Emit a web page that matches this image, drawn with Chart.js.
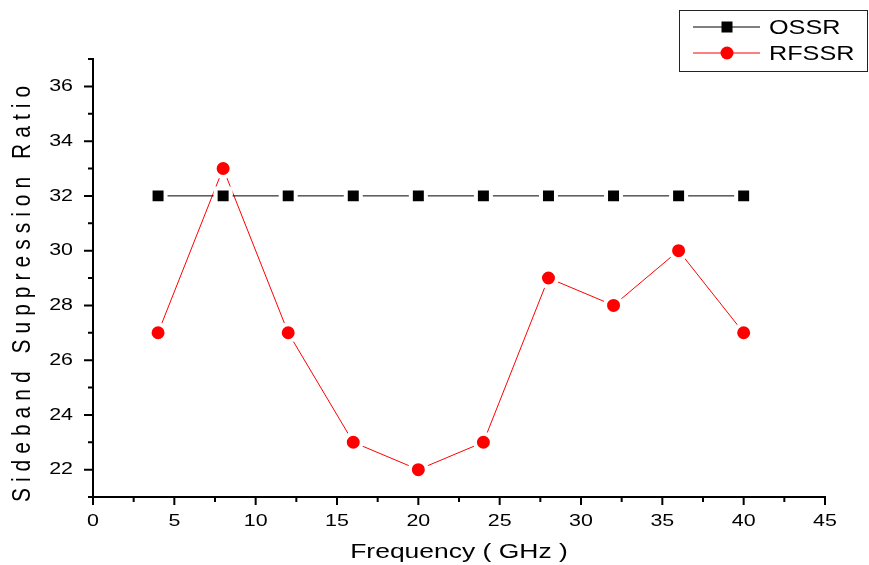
<!DOCTYPE html>
<html>
<head>
<meta charset="utf-8">
<script src="https://cdn.jsdelivr.net/npm/chart.js@4/dist/chart.umd.min.js"></script>
<style>
  html, body { margin: 0; padding: 0; background: #fff; }
  #wrap { width: 869px; height: 565px; position: relative; }
</style>
</head>
<body>
<div id="wrap"><canvas id="ssrChart"></canvas></div>
<script>
// data
const freqs = [4, 8, 12, 16, 20, 24, 28, 32, 36, 40];
const ossr = [32, 32, 32, 32, 32, 32, 32, 32, 32, 32];
const rfssr = [27, 33, 27, 23, 22, 23, 29, 28, 30, 27];
const xTicks = [0, 5, 10, 15, 20, 25, 30, 35, 40, 45];
const xMinor = [2.5, 7.5, 12.5, 17.5, 22.5, 27.5, 32.5, 37.5, 42.5];
const yTicks = [22, 24, 26, 28, 30, 32, 34, 36];
const yMinor = [21, 23, 25, 27, 29, 31, 33, 35, 37];

const FONT = 'Arial, "Liberation Sans", sans-serif';
const STRETCH = 1.26; // the original export is a bit wider than tall

function wideText(ctx, text, x, y, align, size) {
  ctx.save();
  ctx.translate(x, y);
  ctx.scale(STRETCH, 1);
  ctx.font = size + 'px ' + FONT;
  ctx.textAlign = align;
  ctx.textBaseline = 'middle';
  ctx.fillText(text, 0, 0);
  ctx.restore();
}

// outward ticks (major + minor), tick labels, axis titles and the boxed legend
const originStyle = {
  id: 'originStyle',
  afterDraw(chart) {
    const ctx = chart.ctx;
    const x = chart.scales.x, y = chart.scales.y;
    const area = chart.chartArea;
    ctx.save();
    ctx.strokeStyle = '#000';
    ctx.lineWidth = 2;
    ctx.beginPath();
    xTicks.forEach(v => { const px = x.getPixelForValue(v); ctx.moveTo(px, area.bottom); ctx.lineTo(px, area.bottom + 8); });
    xMinor.forEach(v => { const px = x.getPixelForValue(v); ctx.moveTo(px, area.bottom); ctx.lineTo(px, area.bottom + 5); });
    yTicks.forEach(v => { const py = y.getPixelForValue(v); ctx.moveTo(area.left, py); ctx.lineTo(area.left - 9, py); });
    yMinor.forEach(v => { const py = y.getPixelForValue(v); ctx.moveTo(area.left, py); ctx.lineTo(area.left - 5, py); });
    ctx.stroke();

    ctx.fillStyle = '#000';
    xTicks.forEach(v => wideText(ctx, String(v), x.getPixelForValue(v), area.bottom + 24, 'center', 17));
    yTicks.forEach(v => wideText(ctx, String(v), area.left - 20, y.getPixelForValue(v), 'right', 17));

    // axis titles
    wideText(ctx, 'Frequency ( GHz )', (area.left + area.right) / 2, 552, 'center', 21);

    ctx.save();
    ctx.translate(23, 291);
    ctx.rotate(-Math.PI / 2);
    ctx.scale(1, 1.2);
    ctx.letterSpacing = '6px';
    ctx.font = '21px ' + FONT;
    ctx.textAlign = 'center';
    ctx.textBaseline = 'middle';
    ctx.fillText('Sideband Suppression Ratio', 0, 0);
    ctx.restore();

    // legend
    ctx.lineWidth = 1;
    ctx.strokeStyle = '#222';
    ctx.strokeRect(679.5, 10.5, 188, 61);
    chart.data.datasets.forEach((ds, i) => {
      const ly = 27 + i * 26;
      ctx.strokeStyle = ds.borderColor;
      ctx.lineWidth = 1;
      ctx.beginPath();
      ctx.moveTo(693, ly);
      ctx.lineTo(760, ly);
      ctx.stroke();
      ctx.fillStyle = ds.pointBackgroundColor;
      if (ds.pointStyle === 'rect') {
        ctx.fillRect(721.5, ly - 5.5, 11, 11);
      } else {
        ctx.beginPath();
        ctx.arc(727, ly, 6.5, 0, Math.PI * 2);
        ctx.fill();
      }
      ctx.fillStyle = '#000';
      wideText(ctx, ds.label, 769, ly + 1, 'left', 20);
    });
    ctx.restore();
  }
};

new Chart(document.getElementById('ssrChart'), {
  type: 'line',
  data: {
    datasets: [{
      label: 'OSSR',
      data: freqs.map((f, i) => ({ x: f, y: ossr[i] })),
      borderColor: '#000',
      borderWidth: 1,
      pointStyle: 'rect',
      pointRadius: 10.6,
      pointBackgroundColor: '#000',
      pointBorderColor: '#fff',
      pointBorderWidth: 4
    }, {
      label: 'RFSSR',
      data: freqs.map((f, i) => ({ x: f, y: rfssr[i] })),
      borderColor: '#ff0000',
      borderWidth: 1,
      pointStyle: 'circle',
      pointRadius: 8.5,
      pointBackgroundColor: '#ff0000',
      pointBorderColor: '#fff',
      pointBorderWidth: 4
    }]
  },
  options: {
    responsive: true,
    maintainAspectRatio: false,
    animation: false,
    layout: { padding: { top: 59, right: 44, left: 0, bottom: 0 } },
    plugins: {
      legend: { display: false },
      tooltip: { enabled: false }
    },
    scales: {
      x: {
        type: 'linear',
        min: 0,
        max: 45,
        afterBuildTicks: axis => { axis.ticks = xTicks.map(v => ({ value: v })); },
        afterFit: axis => { axis.height = 68; },
        grid: { display: false, drawTicks: false },
        border: { display: true, color: '#000', width: 2 },
        ticks: { display: false }
      },
      y: {
        type: 'linear',
        min: 21,
        max: 37,
        afterBuildTicks: axis => { axis.ticks = yTicks.map(v => ({ value: v })); },
        afterFit: axis => { axis.width = 93; },
        grid: { display: false, drawTicks: false },
        border: { display: true, color: '#000', width: 2 },
        ticks: { display: false }
      }
    }
  },
  plugins: [originStyle]
});
</script>
</body>
</html>
